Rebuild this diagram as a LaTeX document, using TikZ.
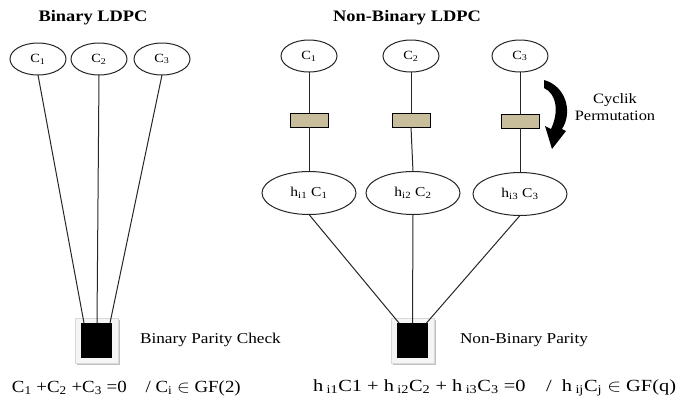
\documentclass[tikz,border=0pt]{standalone}
\usepackage{fontspec}
\usepackage{graphicx}
\setmainfont{Liberation Serif}
\usetikzlibrary{calc,shadows,shapes.geometric}
\newcommand\hs[1]{\scalebox{1.15}[1]{#1}}
\newcommand\sbx[1]{\textsubscript{#1}}
\tikzset{
  every node/.style={inner sep=0pt, outer sep=0pt},
  ttl/.style={font=\fontsize{16}{19}\selectfont\bfseries},
  lbl/.style={font=\fontsize{15}{17}\selectfont},
  eqn/.style={font=\fontsize{17}{20}\selectfont},
  cvar/.style={draw=black!85, ellipse, minimum width=56pt, minimum height=32pt, font=\fontsize{12.5}{14}\selectfont, line width=1pt},
  hvar/.style={draw=black!85, ellipse, minimum width=94pt, minimum height=43pt, font=\fontsize{13.5}{15}\selectfont, line width=1pt},
  perm/.style={draw, fill={rgb,255:red,200;green,190;blue,155}, minimum width=38pt, minimum height=14pt, line width=1pt},
  frame/.style={fill=gray!8, draw=gray!30, minimum width=43pt, minimum height=45pt, drop shadow={shadow xshift=1.8pt, shadow yshift=-1.8pt, opacity=0.7, fill=gray!70}},
  chk/.style={fill=black, minimum width=31pt, minimum height=35pt},
  edge/.style={line width=1pt, draw=black!85},
}
\begin{document}
\begin{tikzpicture}[x=1pt,y=-1pt]
\useasboundingbox (0,0) rectangle (678,402);
% titles
\node[ttl] (t1) at (93,18) {\hs{Binary LDPC}};
\node[ttl] (t2) at (407,18) {\hs{Non-Binary LDPC}};
% binary side
\node[cvar] (b1) at (38,59) {\hs{C\sbx{1}}};
\node[cvar] (b2) at (99,59) {\hs{C\sbx{2}}};
\node[cvar] (b3) at (162,59) {\hs{C\sbx{3}}};
\node[frame] (bf) at (96.5,340.5) {};
\node[chk] (bp) at (96.5,340.5) {};
\draw[edge] (b1.south) -- ([xshift=3pt]bp.north west);
\draw[edge] (b2.south) -- ([xshift=0.5pt]bp.north);
\draw[edge] (b3.south) -- ([xshift=-2pt]bp.north east);
\node[lbl,anchor=west] (bl) at (140,340) {\hs{Binary Parity Check}};
% non-binary side
\node[cvar] (n1) at (309,56) {\hs{C\sbx{1}}};
\node[cvar] (n2) at (411,56) {\hs{C\sbx{2}}};
\node[cvar] (n3) at (520,56) {\hs{C\sbx{3}}};
\node[perm] (p1) at (309,120) {};
\node[perm] (p2) at (411,120) {};
\node[perm] (p3) at (520,121) {};
\node[hvar] (h1) at (309,193) {\hs{h\sbx{i1} C\sbx{1}}};
\node[hvar] (h2) at (413,193) {\hs{h\sbx{i2} C\sbx{2}}};
\node[hvar] (h3) at (520,194) {\hs{h\sbx{i3} C\sbx{3}}};
\foreach \i in {1,2,3}{
  \draw[edge] (n\i.south) -- (p\i.north);
  \draw[edge] (p\i.south) -- (h\i.north);
}
\node[frame] (nf) at (412.5,340.5) {};
\node[chk] (np) at (412.5,340.5) {};
\draw[edge] (h1.south) -- ([xshift=2pt]np.north west);
\draw[edge] (h2.south) -- (np.north);
\draw[edge] (h3.south) -- ([xshift=-1.5pt]np.north east);
\node[lbl,anchor=west] (nl) at (460,340) {\hs{Non-Binary Parity}};
% cyclic permutation arrow
\fill (544,80) .. controls (566,86) and (573,112) .. (562,129) -- (566,131) -- (552,149) -- (545,126) -- (551,129) .. controls (559,112) and (557,94) .. (544,88) -- cycle;
\node[lbl, align=center, font=\fontsize{14.3}{17}\selectfont] (cp) at (615,107) {\hs{Cyclik}\\\hs{Permutation}};
% equations
\node[eqn,anchor=west] (e1) at (12,388) {\scalebox{1.11}[1]{C\sbx{1} +C\sbx{2} +C\sbx{3} =0\quad / C\sbx{i} $\in$ GF(2)}};
\node[eqn,anchor=west] (e2) at (313,388) {\scalebox{1.2}[1]{h\,\sbx{i1}C1 + h\,\sbx{i2}C\sbx{2} + h\,\sbx{i3}C\sbx{3} =0\quad / \ h\,\sbx{ij}C\sbx{j} $\in$ GF(q)}};
\end{tikzpicture}
\end{document}
